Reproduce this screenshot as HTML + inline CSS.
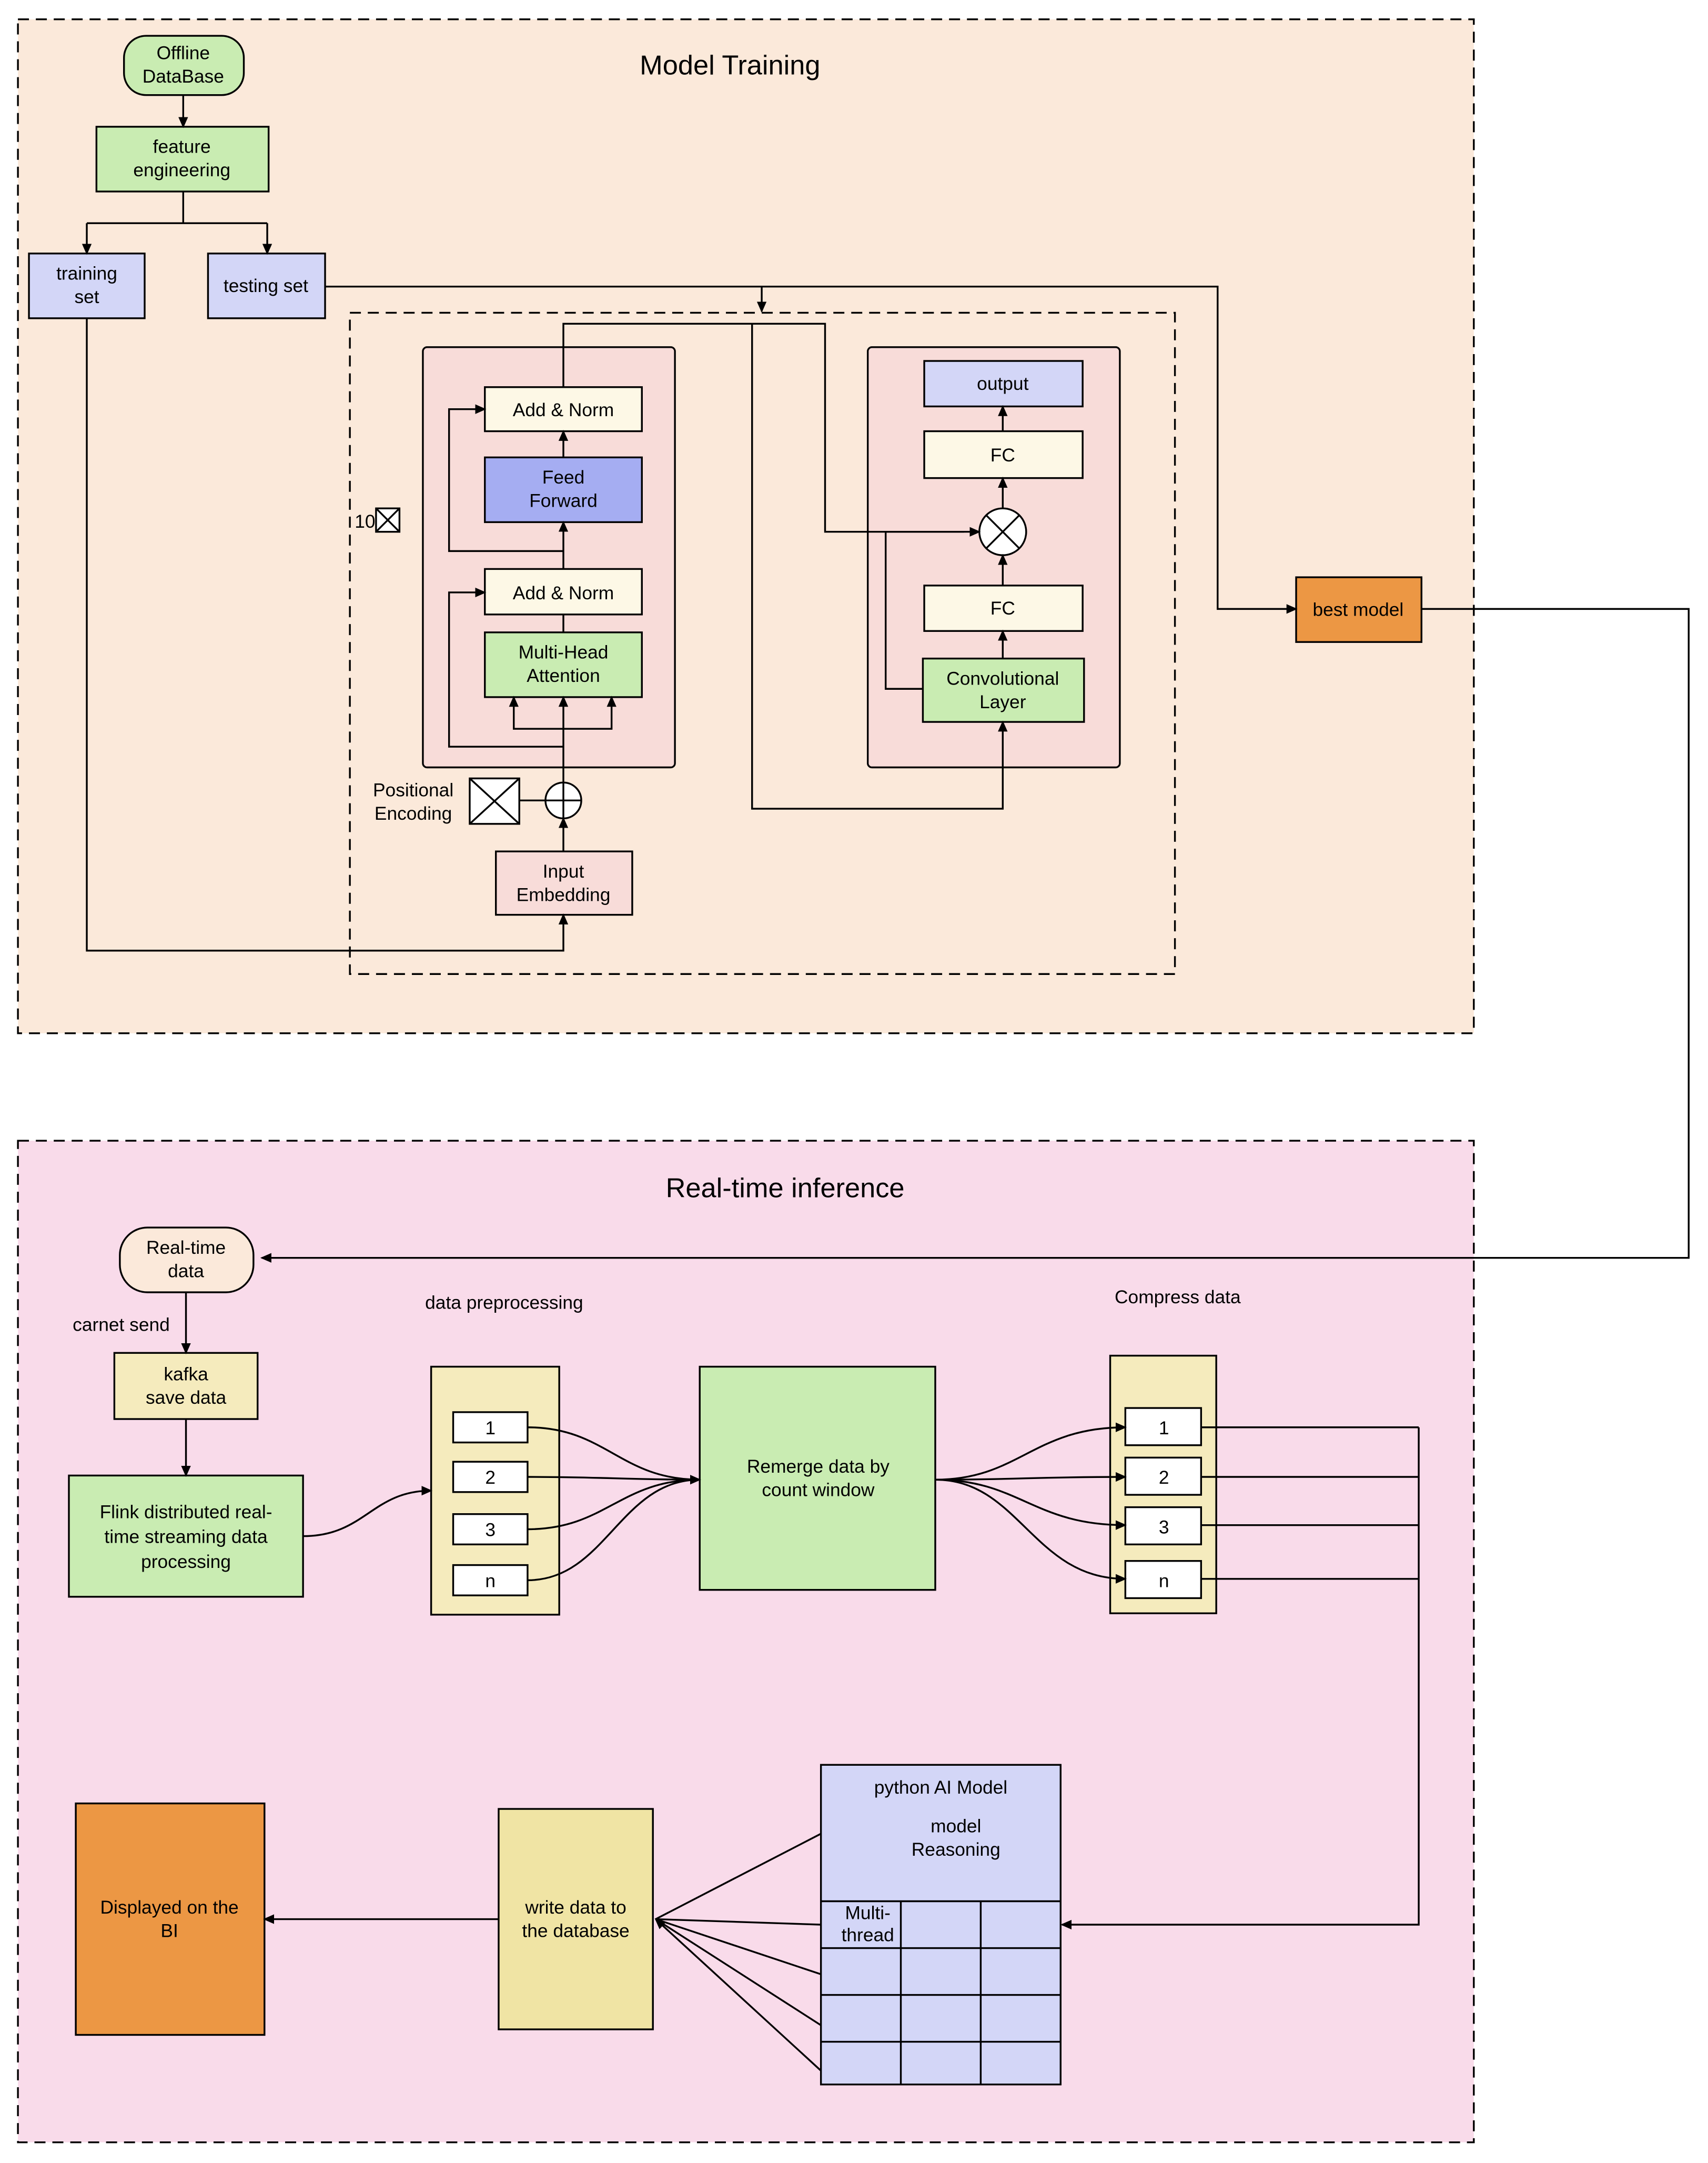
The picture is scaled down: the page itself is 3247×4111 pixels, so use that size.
<!DOCTYPE html>
<html><head><meta charset="utf-8"><style>html,body{margin:0;padding:0;background:#fff}svg{display:block}</style></head><body>
<svg xmlns="http://www.w3.org/2000/svg" width="3247" height="4111" viewBox="0 0 1240 1570" font-family="Liberation Sans, sans-serif" font-size="13.5" text-anchor="middle">
<defs><marker id="a" markerWidth="8" markerHeight="8" refX="7" refY="4" orient="auto" markerUnits="userSpaceOnUse"><path d="M0,0.5 L8,4 L0,7.5z" fill="#000"/></marker></defs>
<g stroke="#000" stroke-width="1.3">
<rect x="13" y="14" width="1057" height="736" fill="#fbe9da" stroke-dasharray="8,5"/>
<rect x="13" y="828" width="1057" height="727" fill="#f9dbea" stroke-dasharray="8,5"/>
<rect x="254" y="227" width="599" height="480" fill="none" stroke-dasharray="8,5"/>
<rect x="90" y="26" width="87" height="43" rx="16" fill="#c9ecb2"/>
<rect x="70" y="92" width="125" height="47" fill="#c9ecb2"/>
<rect x="21" y="184" width="84" height="47" fill="#d3d6f7"/>
<rect x="151" y="184" width="85" height="47" fill="#d3d6f7"/>
<rect x="941" y="419" width="91" height="47" fill="#ec9744"/>
<rect x="307" y="252" width="183" height="305" rx="3" fill="#f8dcd9"/>
<rect x="630" y="252" width="183" height="305" rx="3" fill="#f8dcd9"/>
<rect x="352" y="281" width="114" height="32" fill="#fdf8e6"/>
<rect x="352" y="332" width="114" height="47" fill="#a5adf2"/>
<rect x="352" y="413" width="114" height="33" fill="#fdf8e6"/>
<rect x="352" y="459" width="114" height="47" fill="#c9ecb2"/>
<rect x="360" y="618" width="99" height="46" fill="#f8dcd9"/>
<rect x="671" y="262" width="115" height="33" fill="#d3d6f7"/>
<rect x="671" y="313" width="115" height="34" fill="#fdf8e6"/>
<rect x="671" y="425" width="115" height="33" fill="#fdf8e6"/>
<rect x="670" y="478" width="117" height="46" fill="#c9ecb2"/>
<rect x="273" y="369" width="17" height="17" fill="#fff"/><path d="M273,369L290,386M290,369L273,386" fill="none"/>
<rect x="341" y="565" width="36" height="33" fill="#fff"/><path d="M341,565L377,598M377,565L341,598" fill="none"/>
<circle cx="409" cy="581" r="13" fill="#fff"/><path d="M396,581H422M409,568V594" fill="none"/>
<circle cx="728" cy="386" r="17" fill="#fff"/><path d="M716,374L740,398M740,374L716,398" fill="none"/>
<g fill="none">
<path d="M133,69V92" marker-end="url(#a)"/>
<path d="M133,139V162M63,162H194"/>
<path d="M63,162V184" marker-end="url(#a)"/><path d="M194,162V184" marker-end="url(#a)"/>
<path d="M236,208H884V442H941" marker-end="url(#a)"/>
<path d="M553,208V226" marker-end="url(#a)"/>
<path d="M1032,442H1226V913H190" marker-end="url(#a)"/>
<path d="M63,231V690H409V664" marker-end="url(#a)"/>
<path d="M409,618V594" marker-end="url(#a)"/>
<path d="M377,581H396"/>
<path d="M409,568V506" marker-end="url(#a)"/>
<path d="M409,529H373V506" marker-end="url(#a)"/><path d="M409,529H444V506" marker-end="url(#a)"/>
<path d="M409,542H326V430H352" marker-end="url(#a)"/>
<path d="M409,446V459"/>
<path d="M409,413V379" marker-end="url(#a)"/>
<path d="M409,400H326V297H352" marker-end="url(#a)"/>
<path d="M409,332V313" marker-end="url(#a)"/>
<path d="M409,281V235H599V386H711" marker-end="url(#a)"/>
<path d="M546,235V587H728V524" marker-end="url(#a)"/>
<path d="M670,500H643V386H700"/>
<path d="M728,478V458" marker-end="url(#a)"/>
<path d="M728,425V403" marker-end="url(#a)"/>
<path d="M728,369V347" marker-end="url(#a)"/>
<path d="M728,313V295" marker-end="url(#a)"/>
</g>
<rect x="87" y="891" width="97" height="47" rx="20" fill="#fbe9da"/>
<rect x="83" y="982" width="104" height="48" fill="#f5ebbd"/>
<rect x="50" y="1071" width="170" height="88" fill="#c9ecb2"/>
<rect x="313" y="992" width="93" height="180" fill="#f5ebbd"/>
<rect x="329" y="1025" width="54" height="22" fill="#fff"/>
<rect x="329" y="1061" width="54" height="22" fill="#fff"/>
<rect x="329" y="1099" width="54" height="22" fill="#fff"/>
<rect x="329" y="1136" width="54" height="22" fill="#fff"/>
<rect x="508" y="992" width="171" height="162" fill="#c9ecb2"/>
<rect x="806" y="984" width="77" height="187" fill="#f5ebbd"/>
<rect x="817" y="1022" width="55" height="27" fill="#fff"/>
<rect x="817" y="1058" width="55" height="27" fill="#fff"/>
<rect x="817" y="1094" width="55" height="27" fill="#fff"/>
<rect x="817" y="1133" width="55" height="27" fill="#fff"/>
<rect x="596" y="1281" width="174" height="232" fill="#d3d6f7"/>
<path d="M596,1380H770M596,1414H770M596,1448H770M596,1482H770M654,1380V1513M712,1380V1513" fill="none"/>
<rect x="362" y="1313" width="112" height="160" fill="#f0e4a4"/>
<rect x="55" y="1309" width="137" height="168" fill="#ec9744"/>
<g fill="none">
<path d="M135,938V982" marker-end="url(#a)"/>
<path d="M135,1030V1071" marker-end="url(#a)"/>
<path d="M220,1115C265,1115 270,1082 313,1082" marker-end="url(#a)"/>
<path d="M383,1036C440,1036 450,1074 508,1074"/>
<path d="M383,1072C440,1072 450,1074 508,1074"/>
<path d="M383,1110C440,1110 450,1074 508,1074"/>
<path d="M383,1147C440,1147 450,1074 508,1074" marker-end="url(#a)"/>
<path d="M679,1074C740,1074 750,1036 817,1036" marker-end="url(#a)"/>
<path d="M679,1074C740,1074 750,1072 817,1072" marker-end="url(#a)"/>
<path d="M679,1074C740,1074 750,1107 817,1107" marker-end="url(#a)"/>
<path d="M679,1074C740,1074 750,1146 817,1146" marker-end="url(#a)"/>
<path d="M872,1036H1030M872,1072H1030M872,1107H1030M872,1146H1030M1030,1036V1397H771" marker-end="url(#a)"/>
<path d="M362,1393H192" marker-end="url(#a)"/>
<path d="M596,1331L476,1393M596,1397L476,1393M596,1433L476,1393M596,1470L476,1393M596,1503L476,1393" marker-end="url(#a)"/>
</g>
</g>
<g fill="#000">
<text x="530" y="54" font-size="20">Model Training</text>
<text x="570" y="869" font-size="20">Real-time inference</text>
<text x="133" y="43">Offline</text><text x="133" y="60">DataBase</text>
<text x="132" y="111">feature</text><text x="132" y="128">engineering</text>
<text x="63" y="203">training</text><text x="63" y="220">set</text>
<text x="193" y="212">testing set</text>
<text x="986" y="447">best model</text>
<text x="409" y="302">Add &amp; Norm</text>
<text x="409" y="351">Feed</text><text x="409" y="368">Forward</text>
<text x="409" y="435">Add &amp; Norm</text>
<text x="409" y="478">Multi-Head</text><text x="409" y="495">Attention</text>
<text x="409" y="637">Input</text><text x="409" y="654">Embedding</text>
<text x="300" y="578">Positional</text><text x="300" y="595">Encoding</text>
<text x="265" y="383">10</text>
<text x="728" y="283">output</text>
<text x="728" y="335">FC</text>
<text x="728" y="446">FC</text>
<text x="728" y="497">Convolutional</text><text x="728" y="514">Layer</text>
<text x="135" y="910">Real-time</text><text x="135" y="927">data</text>
<text x="88" y="966">carnet send</text>
<text x="135" y="1002">kafka</text><text x="135" y="1019">save data</text>
<text x="135" y="1102">Flink distributed real-</text><text x="135" y="1120">time streaming data</text><text x="135" y="1138">processing</text>
<text x="366" y="950">data preprocessing</text>
<text x="356" y="1041">1</text><text x="356" y="1077">2</text><text x="356" y="1115">3</text><text x="356" y="1152">n</text>
<text x="594" y="1069">Remerge data by</text><text x="594" y="1086">count window</text>
<text x="855" y="946">Compress data</text>
<text x="845" y="1041">1</text><text x="845" y="1077">2</text><text x="845" y="1113">3</text><text x="845" y="1152">n</text>
<text x="683" y="1302">python AI Model</text>
<text x="694" y="1330">model</text><text x="694" y="1347">Reasoning</text>
<text x="630" y="1393">Multi-</text><text x="630" y="1409">thread</text>
<text x="418" y="1389">write data to</text><text x="418" y="1406">the database</text>
<text x="123" y="1389">Displayed on the</text><text x="123" y="1406">BI</text>
</g>
</svg>
</body></html>
